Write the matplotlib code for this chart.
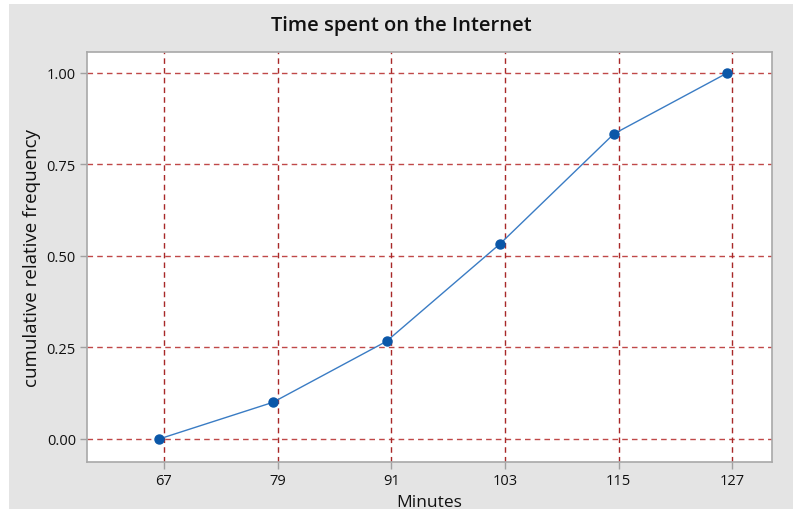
import matplotlib
matplotlib.use("Agg")
import matplotlib.pyplot as plt
from matplotlib.patches import Rectangle

# Data
minutes = [66.5, 78.5, 90.5, 102.5, 114.5, 126.5]
cum_rel_freq = [0.0, 0.10, 0.2667, 0.5333, 0.8333, 1.0]
x_ticks = [67, 79, 91, 103, 115, 127]
y_ticks = [0.0, 0.25, 0.50, 0.75, 1.00]
y_tick_labels = ["0.00", "0.25", "0.50", "0.75", "1.00"]

plt.rcParams['font.family'] = ['Open Sans', 'DejaVu Sans']

W, H = 793, 510
fig = plt.figure(figsize=(W / 100, H / 100), dpi=100)
fig.patch.set_facecolor('white')
bg = Rectangle((9 / W, 0), 1 - 9 / W, 1 - 5 / H, transform=fig.transFigure,
               facecolor='#e4e4e4', edgecolor='none', zorder=-10)
fig.patches.append(bg)

left, right, top, bottom = 87, 772, 53, 463
ax = fig.add_axes([left / W, 1 - bottom / H, (right - left) / W, (bottom - top) / H])
ax.set_facecolor('white')

ax.set_xlim(58.87, 131.2)
ax.set_ylim(-0.063, 1.057)

for yt in y_ticks:
    ax.axhline(yt, color='#c04848', linestyle=(0, (4, 3)), linewidth=1.0, zorder=1)
for xt in x_ticks:
    ax.axvline(xt, color='#a82828', linestyle=(0, (4, 3)), linewidth=1.0, zorder=1)

ax.plot(minutes, cum_rel_freq, color='#3a7cc4', linewidth=1.0, zorder=3)
ax.plot(minutes, cum_rel_freq, linestyle='none', marker='o', markersize=6.5,
        color='#0b57a8', markeredgecolor='#0b57a8', zorder=4)

ax.set_xticks(x_ticks)
ax.set_xticklabels([str(v) for v in x_ticks])
ax.set_yticks(y_ticks)
ax.set_yticklabels(y_tick_labels)

ax.tick_params(axis='both', direction='out', length=5, width=1, color='#a0a0a0',
               labelsize=10.5, labelcolor='#111111', pad=3)
for lbl in ax.get_xticklabels() + ax.get_yticklabels():
    lbl.set_fontweight('medium')

for s in ax.spines.values():
    s.set_color('#a8a8a8')
    s.set_linewidth(1.2)

ax.set_xlabel('Minutes', fontsize=12.5, color='#111111', labelpad=4, fontweight='medium')
ax.set_ylabel('cumulative relative frequency', fontsize=13.5, color='#111111',
              labelpad=4, fontweight='medium')

fig.text((9 + (W - 9) / 2) / W, 1 - 26 / H, 'Time spent on the Internet',
         ha='center', va='center', fontsize=14.5, fontweight='semibold', color='#111111')

fig.savefig('out.png', dpi=100)
